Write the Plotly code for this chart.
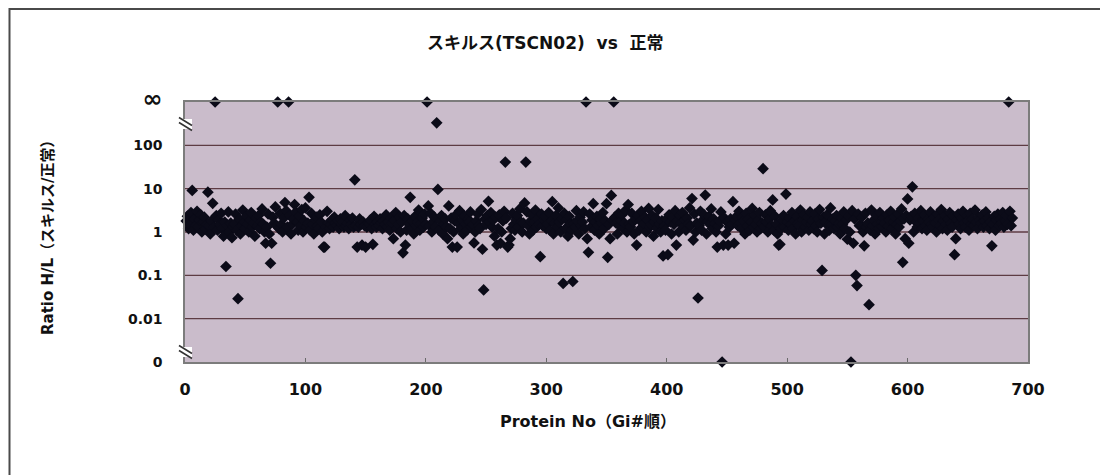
import math
import plotly.graph_objects as go

# ---------------- data ----------------
title_text = "スキルス(TSCN02)  vs  正常"
x_title = "Protein No（Gi#順）"
y_title = "Ratio H/L（スキルス/正常）"

x_tick_values = [0, 100, 200, 300, 400, 500, 600, 700]
y_tick_values = [0, 0.01, 0.1, 1, 10, 100, math.inf]
y_tick_labels = ["0", "0.01", "0.1", "1", "10", "100", "<span style='font-size:24px'>∞</span>"]
grid_values = [0.01, 0.1, 1, 10, 100]

# ratio of every protein (Protein No = position in the list, starting at 1)
band_ratio = [
    1.8, 2.3, 1.2, 1.5, 2.8, 1.6, 1.1, 2.0, 1.4, 3.0, 1.3, 1.9, 2.5, 1.0, 1.7, 2.2, 1.2, 1.5, 2.6, 1.4,
    0.9, 1.8, 2.1, 1.3, 1.6, 2.4, 1.1, 1.9, 1.5, 2.7, 1.2, 0.8, 1.7, 2.0, 1.4, 2.9, 1.0, 1.6, 2.2, 1.3,
    1.5, 2.6, 1.1, 1.8, 2.0, 0.9, 1.4, 3.2, 1.7, 1.2, 2.3, 1.5, 1.0, 1.9, 2.8, 1.3, 1.6, 0.8, 2.1, 1.4,
    2.4, 1.2, 1.7, 3.4, 1.5, 1.0, 2.0, 1.3, 2.6, 0.9, 1.8, 1.1, 2.2, 1.6, 3.8, 1.4, 1.9, 1.2, 2.7, 1.5,
    1.0, 2.1, 1.6, 3.1, 1.3, 1.8, 2.4, 0.9, 1.5, 2.0, 1.2, 2.9, 1.7, 1.1, 2.3, 1.4, 3.3, 1.0, 1.8, 2.5,
    1.3, 1.6, 2.0, 1.1, 2.7, 1.5, 0.9, 1.9, 2.2, 1.4, 1.2, 2.5, 1.7, 1.0, 1.8, 2.1, 1.3, 3.0, 1.6, 1.2,
    1.5, 1.9, 1.3, 2.2, 1.6, 1.4, 1.8, 1.2, 2.0, 1.5, 1.7, 1.3, 2.4, 1.4, 1.6, 1.2, 1.9, 1.5, 2.1, 1.3,
    1.6, 1.4, 1.8, 1.3, 2.0, 1.5, 1.2, 1.7, 1.4, 2.2, 1.3, 1.6, 1.5, 1.9, 1.2, 1.4, 2.3, 1.5, 1.3, 1.7,
    1.4, 2.0, 1.6, 1.2, 1.8, 1.5, 2.5, 1.3, 1.7, 1.1, 2.1, 1.6, 1.4, 1.9, 2.8, 1.2, 1.5, 2.2, 1.0, 1.7,
    1.3, 2.4, 1.6, 1.1, 2.0, 1.5, 2.9, 1.2, 1.8, 0.9, 2.3, 1.4, 1.7, 3.2, 1.1, 1.6, 2.1, 1.3, 2.6, 1.5,
    1.2, 1.9, 1.4, 2.7, 1.0, 1.7, 2.2, 1.3, 1.6, 3.0, 1.1, 1.8, 2.4, 0.9, 1.5, 2.0, 1.3, 2.8, 1.6, 1.2,
    2.1, 1.4, 1.0, 1.8, 2.5, 1.3, 1.6, 3.1, 1.2, 1.9, 0.9, 2.3, 1.5, 1.1, 2.0, 1.7, 2.9, 1.3, 1.5, 2.2,
    1.0, 1.8, 2.6, 1.4, 1.2, 3.3, 1.6, 0.9, 2.0, 1.5, 2.4, 1.1, 1.7, 2.8, 1.3, 1.9, 0.8, 2.2, 1.5, 1.2,
    2.5, 1.4, 1.0, 1.8, 3.0, 1.3, 2.1, 0.9, 1.6, 2.3, 1.2, 2.7, 1.5, 1.1, 1.9, 2.4, 1.3, 3.4, 1.7, 1.0,
    1.6, 2.2, 1.2, 2.9, 1.4, 0.9, 1.8, 2.5, 1.1, 1.7, 3.2, 1.3, 2.0, 1.5, 1.0, 2.6, 1.4, 1.9, 2.3, 1.2,
    1.5, 2.8, 1.1, 1.8, 2.1, 0.9, 1.6, 2.4, 1.3, 3.6, 1.7, 1.0, 2.0, 1.4, 2.7, 1.2, 1.9, 0.8, 2.3, 1.5,
    1.1, 2.5, 1.6, 1.3, 3.1, 1.8, 0.9, 2.2, 1.4, 1.7, 2.9, 1.2, 2.0, 1.5, 1.0, 2.6, 1.3, 1.9, 3.5, 1.1,
    1.7, 2.3, 1.4, 0.9, 2.0, 1.6, 2.8, 1.2, 1.8, 1.0, 2.4, 1.5, 3.0, 1.3, 1.9, 1.1, 2.2, 1.6, 0.9, 2.7,
    1.4, 1.8, 2.5, 1.2, 1.6, 3.2, 1.0, 2.1, 1.5, 1.3, 2.7, 1.7, 0.9, 2.0, 1.4, 2.4, 1.1, 1.8, 3.0, 1.3,
    1.6, 2.2, 1.0, 1.9, 2.9, 1.3, 1.5, 2.4, 0.8, 1.7, 2.1, 1.2, 3.3, 1.5, 1.0, 1.8, 2.6, 1.4, 1.1, 2.0,
    1.3, 2.5, 1.7, 0.9, 2.2, 1.5, 3.1, 1.2, 1.8, 1.0, 2.4, 1.6, 2.8, 1.3, 1.9, 1.1, 2.1, 1.5, 3.6, 1.4,
    1.2, 1.8, 2.6, 1.0, 1.6, 2.2, 1.4, 3.0, 1.1, 1.9, 2.5, 1.3, 0.9, 1.7, 2.3, 1.5, 3.4, 1.2, 2.0, 1.6,
    1.0, 2.4, 1.4, 1.8, 2.9, 1.2, 1.6, 2.1, 0.9, 1.7, 3.2, 1.3, 2.0, 1.5, 2.6, 1.1, 1.9, 2.3, 1.4, 3.0,
    1.6, 1.2, 2.2, 1.8, 0.9, 2.7, 1.4, 2.0, 1.1, 1.7, 3.5, 1.3, 2.4, 1.5, 1.0, 1.9, 2.8, 1.2, 1.6, 2.1,
    1.3, 2.5, 1.7, 1.0, 2.0, 3.1, 1.4, 1.8, 1.1, 2.3, 1.5, 0.9, 2.7, 1.6, 1.2, 1.9, 2.4, 1.3, 3.0, 1.7,
    1.1, 2.1, 1.5, 2.8, 1.2, 1.8, 0.9, 2.3, 1.6, 1.4, 3.2, 1.0, 1.9, 2.5, 1.3, 1.7, 2.2, 1.1, 2.9, 1.5,
    1.8, 1.2, 2.6, 1.4, 1.0, 2.0, 3.3, 1.6, 1.3, 2.2, 0.9, 1.7, 2.5, 1.4, 1.1, 3.6, 1.5, 2.0, 1.2, 1.8,
    2.4, 1.3, 1.6, 0.9, 2.1, 1.5, 2.9, 1.2, 1.9, 1.4, 2.3, 1.0, 1.7, 3.1, 1.3, 2.0, 1.6, 1.1, 2.6, 1.4,
    1.5, 2.2, 1.0, 1.8, 2.7, 1.3, 1.6, 2.0, 1.1, 3.2, 1.4, 1.9, 0.9, 2.4, 1.5, 1.2, 2.8, 1.7, 1.3, 2.1,
    1.6, 1.0, 2.5, 1.4, 1.9, 3.0, 1.2, 1.7, 2.2, 0.9, 1.5, 2.6, 1.3, 1.8, 3.4, 1.1, 2.0, 1.6, 2.4, 1.4,
    1.2, 1.9, 2.3, 1.5, 1.0, 2.7, 1.7, 1.3, 2.1, 1.6, 3.1, 1.2, 1.8, 2.5, 1.4, 1.1, 2.0, 1.7, 2.9, 1.5,
    1.3, 2.2, 1.6, 1.0, 2.6, 1.9, 1.4, 3.3, 1.2, 1.8, 2.4, 1.5, 1.1, 2.0, 2.8, 1.6, 1.3, 2.3, 1.7, 1.4,
    1.9, 2.6, 1.5, 1.2, 2.1, 3.0, 1.6, 1.3, 2.4, 1.8, 1.1, 2.7, 1.5, 2.0, 1.4, 3.2, 1.7, 1.2, 2.2, 1.9,
    1.6, 2.5, 1.3, 1.8, 2.9, 1.4, 2.1, 1.2, 1.7, 3.1, 1.5, 2.3, 1.1, 1.9, 2.6, 1.4, 2.0, 1.6, 2.8, 1.3,
    1.8, 2.4, 1.5, 1.7, 3.0, 1.4, 2.1,
]

# proteins whose ratio is infinite (only heavy) or zero (only light)
inf_no = [25, 77, 86, 201, 333, 356, 684]
zero_no = [446, 553]

# clearly raised proteins
high_no = [209, 141, 6, 19, 23, 103, 83, 91, 100, 187, 210, 219, 202, 266, 283,
           252, 282, 305, 354, 368, 385, 421, 432, 455, 350, 339, 480, 499, 604, 600, 488]
high_ratio = [330, 16, 9.1, 8.3, 4.6, 6.3, 4.8, 4.3, 3.6, 6.3, 9.6, 4.0, 4.0, 41, 41,
              5.1, 4.7, 5.0, 7.0, 4.3, 3.5, 5.9, 7.1, 5.0, 4.5, 4.5, 29, 7.5, 11, 5.8, 5.5]

# clearly lowered proteins
low_no = [39, 34, 71, 44, 115, 147, 156, 173, 181, 183, 222, 218, 67, 72, 240,
          248, 247, 262, 269, 270, 295, 314, 322, 335, 351, 334, 353, 375, 401, 408,
          447, 456, 422, 426, 494, 529, 557, 558, 568, 555, 596, 598, 601, 639, 640,
          670, 550, 442, 451, 493, 564, 397, 116, 143, 150, 226, 259, 268]
low_ratio = [0.74, 0.16, 0.19, 0.029, 0.45, 0.5, 0.52, 0.7, 0.33, 0.5, 0.45, 0.7, 0.55, 0.55, 0.56,
             0.046, 0.4, 0.55, 0.5, 0.7, 0.27, 0.065, 0.072, 0.34, 0.26, 0.7, 0.7, 0.5, 0.3, 0.5,
             0.5, 0.55, 0.65, 0.03, 0.52, 0.13, 0.1, 0.058, 0.021, 0.55, 0.2, 0.7, 0.55, 0.3, 0.7,
             0.48, 0.68, 0.45, 0.5, 0.5, 0.48, 0.28, 0.45, 0.45, 0.45, 0.45, 0.5, 0.45]

# ---------------- assemble ----------------
ratio = list(band_ratio)
for n in inf_no:
    ratio[n - 1] = math.inf
for n in zero_no:
    ratio[n - 1] = 0.0
for n, v in zip(high_no, high_ratio):
    ratio[n - 1] = v
for n, v in zip(low_no, low_ratio):
    ratio[n - 1] = v
protein_no = list(range(1, len(ratio) + 1))

# broken log axis: "0" sits one decade below 0.01, "∞" one decade above 100
AXIS_ZERO = 0.001
AXIS_INF = 1000.0
LOG_LO, LOG_HI = math.log10(AXIS_ZERO), math.log10(AXIS_INF)


def to_axis(v):
    if math.isinf(v):
        return AXIS_INF
    if v <= 0:
        return AXIS_ZERO
    return v


y_plot = [to_axis(v) for v in ratio]
y_ticks_plot = [to_axis(v) for v in y_tick_values]

# ---------------- layout geometry ----------------
# the page body has an 8px margin, so the figure is placed at (8, 8) in the window
OFF = 8
W, H = 1108 - OFF, 475 - OFF
# plot area in window pixels
SL, SR, ST, SB = 185, 1028, 102, 362
PL, PR, PT, PB = SL - OFF, SR - OFF, ST - OFF, SB - OFF


def px(x):  # window x -> paper
    return (x - SL) / (SR - SL)


def py(y):  # window y -> paper
    return (SB - y) / (SB - ST)


FONT = "DejaVu Sans, Noto Sans CJK JP, sans-serif"
INK = "#111111"

fig = go.Figure()
fig.add_trace(go.Scatter(
    x=protein_no, y=y_plot, mode="markers",
    marker=dict(symbol="diamond", size=9, color="#0b0b18", line=dict(width=0)),
    cliponaxis=False, showlegend=False, hoverinfo="x+y",
))

shapes = []
# horizontal gridlines
for g in grid_values:
    yp = (math.log10(g) - LOG_LO) / (LOG_HI - LOG_LO)
    shapes.append(dict(type="line", xref="paper", x0=0, x1=1, yref="paper",
                       y0=yp, y1=yp,
                       line=dict(color="#5e3c44", width=1.3), layer="below"))
# chart frame (top and left edges visible)
shapes.append(dict(type="line", xref="paper", yref="paper", x0=px(9), x1=px(1108),
                   y0=py(9), y1=py(9), line=dict(color="#4a4a4a", width=2)))
shapes.append(dict(type="line", xref="paper", yref="paper", x0=px(9.5), x1=px(9.5),
                   y0=py(8), y1=py(475), line=dict(color="#4a4a4a", width=2)))
# axis break marks
for cy in (124, 352):
    shapes.append(dict(type="rect", xref="paper", yref="paper",
                       x0=px(181), x1=px(192), y0=py(cy + 5), y1=py(cy - 5),
                       fillcolor="white", line=dict(width=0), layer="above"))
    for dy in (-2.5, 2.5):
        shapes.append(dict(type="line", xref="paper", yref="paper",
                           x0=px(179), y0=py(cy + dy - 4), x1=px(192), y1=py(cy + dy + 4),
                           line=dict(color="#333333", width=1.6), layer="above"))

annotations = [
    dict(text=title_text, x=px(545), y=py(43), xref="paper", yref="paper",
         showarrow=False, xanchor="center", yanchor="middle",
         font=dict(family=FONT, size=17, color=INK, weight="bold")),
    dict(text=x_title, x=px(588), y=py(421), xref="paper", yref="paper",
         showarrow=False, xanchor="center", yanchor="middle",
         font=dict(family=FONT, size=16, color=INK, weight="bold")),
    dict(text=y_title, x=px(48), y=py(234), xref="paper", yref="paper",
         showarrow=False, xanchor="center", yanchor="middle", textangle=-90,
         font=dict(family=FONT, size=15, color=INK, weight="bold")),
]

fig.update_layout(
    width=W, height=H, autosize=False,
    margin=dict(l=PL, r=W - PR, t=PT, b=H - PB, pad=0),
    paper_bgcolor="white", plot_bgcolor="#cabccb",
    shapes=shapes, annotations=annotations,
    showlegend=False,
)
fig.update_xaxes(
    range=[0, 700], tickvals=x_tick_values, ticktext=[str(v) for v in x_tick_values],
    showgrid=False, zeroline=False, showline=True, mirror=True,
    linecolor="#7c7c7c", linewidth=1.5,
    ticks="inside", ticklen=4, tickcolor="#6a6a6a",
    ticklabelstandoff=12,
    tickfont=dict(family=FONT, size=16, color=INK, weight="bold"),
)
fig.update_yaxes(
    type="log", range=[LOG_LO, LOG_HI],
    tickvals=y_ticks_plot, ticktext=y_tick_labels,
    showgrid=False, zeroline=False, showline=True, mirror=True,
    linecolor="#7c7c7c", linewidth=1.5, ticks="",
    ticklabelstandoff=18,
    tickfont=dict(family=FONT, size=14, color=INK, weight="bold"),
)

fig.write_html("out.html")
